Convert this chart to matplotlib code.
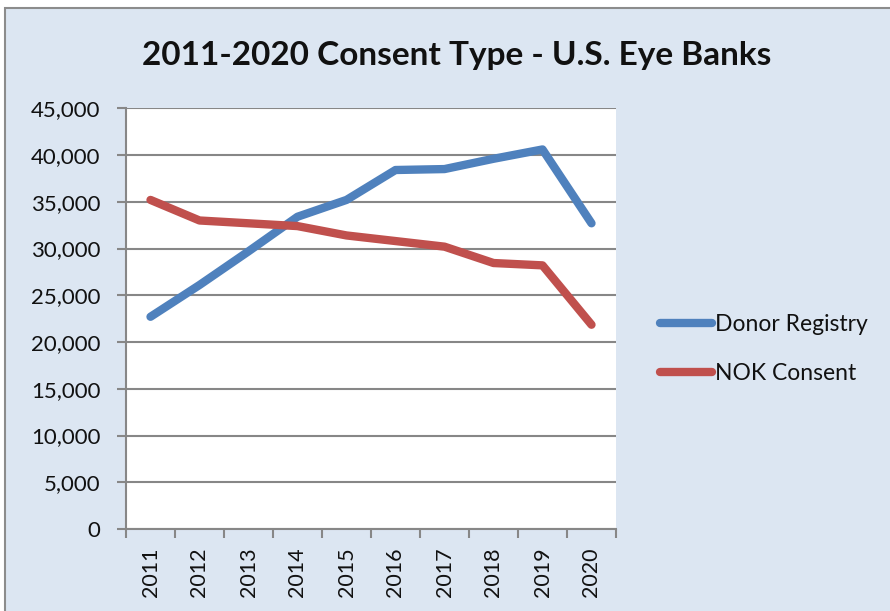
import numpy as np
import matplotlib.pyplot as plt
from matplotlib.patches import Rectangle

years = ['2011', '2012', '2013', '2014', '2015', '2016', '2017', '2018', '2019', '2020']
donor_registry = [22700, 26100, 29700, 33400, 35200, 38400, 38500, 39600, 40600, 32700]
nok_consent = [35200, 33000, 32700, 32400, 31400, 30800, 30200, 28450, 28200, 21850]

plt.rcParams['font.family'] = ['Lato', 'DejaVu Sans']

fig = plt.figure(figsize=(8.9, 6.11), dpi=100)
fig.patch.set_facecolor('white')

# chart area background with thin border
bg = Rectangle((5 / 890, -0.01), 1.0, 1 - 8 / 611 + 0.01, transform=fig.transFigure,
               facecolor='#DCE6F2', edgecolor='#8C8C8C', linewidth=1.5, zorder=-10)
fig.patches.append(bg)

ax = fig.add_axes([126 / 890, 82 / 611, 490 / 890, 420.7 / 611])
ax.set_facecolor('white')

x = np.arange(len(years))
ax.plot(x, donor_registry, color='#4F81BD', linewidth=6, solid_capstyle='round',
        solid_joinstyle='round', label='Donor Registry', zorder=3)
ax.plot(x, nok_consent, color='#C0504D', linewidth=6, solid_capstyle='round',
        solid_joinstyle='round', label='NOK Consent', zorder=3)

ax.set_xlim(-0.5, len(years) - 0.5)
ax.set_ylim(0, 45000)
ax.set_yticks(np.arange(0, 45001, 5000))
ax.set_yticklabels([f'{v:,}' for v in range(0, 45001, 5000)], fontsize=16, color='#111111')
ax.yaxis.grid(True, color='#878787', linewidth=1.5)
ax.set_axisbelow(True)

ax.set_xticks(x)
ax.set_xticklabels(years, rotation=90, fontsize=15.5, color='#111111')
ax.set_xticks(np.arange(-0.5, len(years)), minor=True)
ax.tick_params(axis='x', which='major', length=0, pad=13)
ax.tick_params(axis='x', which='minor', length=6.5, width=1.5, color='#878787')
ax.tick_params(axis='y', length=6.5, width=1.5, color='#878787', pad=12)

for side in ['top', 'right']:
    ax.spines[side].set_visible(False)
for side in ['left', 'bottom']:
    ax.spines[side].set_color('#878787')
    ax.spines[side].set_linewidth(1.5)

fig.text(457 / 890, 1 - 55 / 611, '2011-2020 Consent Type - U.S. Eye Banks',
         ha='center', va='center', fontsize=24, fontweight='bold', color='#111111')

leg = ax.legend(loc='center left', bbox_to_anchor=(639 / 890, 1 - 349 / 611),
                bbox_transform=fig.transFigure, frameon=False, fontsize=16.5,
                handlelength=2.3, handletextpad=0.1, labelspacing=1.2)
for t in leg.get_texts():
    t.set_color('#111111')

fig.savefig('out.png', dpi=100, facecolor=fig.get_facecolor())
